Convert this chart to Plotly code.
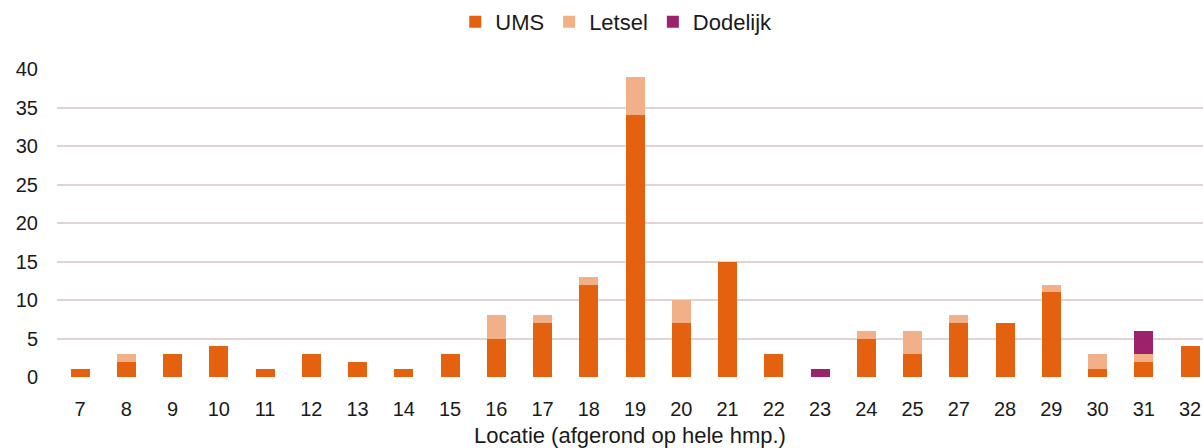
import plotly.graph_objects as go

categories = ["7", "8", "9", "10", "11", "12", "13", "14", "15", "16", "17", "18", "19",
              "20", "21", "22", "23", "24", "25", "27", "28", "29", "30", "31", "32"]
ums = [1, 2, 3, 4, 1, 3, 2, 1, 3, 5, 7, 12, 34, 7, 15, 3, 0, 5, 3, 7, 7, 11, 1, 2, 4]
letsel = [0, 1, 0, 0, 0, 0, 0, 0, 0, 3, 1, 1, 5, 3, 0, 0, 0, 1, 3, 1, 0, 1, 2, 1, 0]
dodelijk = [0, 0, 0, 0, 0, 0, 0, 0, 0, 0, 0, 0, 0, 0, 0, 0, 1, 0, 0, 0, 0, 0, 0, 3, 0]
y_ticks = [0, 5, 10, 15, 20, 25, 30, 35, 40]

fig = go.Figure()
fig.add_trace(go.Bar(name="UMS", x=categories, y=ums, marker_color="#E4620F",
                     marker_line_width=0))
fig.add_trace(go.Bar(name="Letsel", x=categories, y=letsel, marker_color="#F2B088",
                     marker_line_width=0))
fig.add_trace(go.Bar(name="Dodelijk", x=categories, y=dodelijk, marker_color="#9C236B",
                     marker_line_width=0))

fam = "Liberation Sans, Arial, sans-serif"
tick_font = dict(family=fam, size=20, color="#1a1a1a")
leg_font = dict(family=fam, size=22, color="#1a1a1a")

fig.update_layout(
    barmode="stack",
    bargap=0.59,
    width=1203, height=448,
    margin=dict(l=57, r=0, t=69, b=71, autoexpand=False),
    plot_bgcolor="white", paper_bgcolor="white",
    font=tick_font,
    showlegend=True,
    legend=dict(orientation="h", x=0.488, xanchor="center", y=1.153, yanchor="middle",
                font=leg_font, itemwidth=30, traceorder="normal"),
    xaxis=dict(type="category", range=[-0.5, 24.28], showgrid=False, zeroline=False,
               showline=False, ticks="outside", ticklen=14, tickcolor="rgba(0,0,0,0)",
               tickfont=tick_font, automargin=False, ticklabeloverflow="allow",
               title=dict(text="Locatie (afgerond op hele hmp.)", font=leg_font, standoff=10)),
    yaxis=dict(range=[0, 40], tickvals=y_ticks, showgrid=True, gridcolor="#E3D3D3",
               gridwidth=2, zeroline=False, showline=False, ticks="outside", ticklen=14,
               tickcolor="rgba(0,0,0,0)", tickfont=tick_font, automargin=False),
)

fig.write_html("out.html",
               config={"displayModeBar": False},
               post_script="document.body.style.margin='0';document.body.style.overflow='hidden';")
